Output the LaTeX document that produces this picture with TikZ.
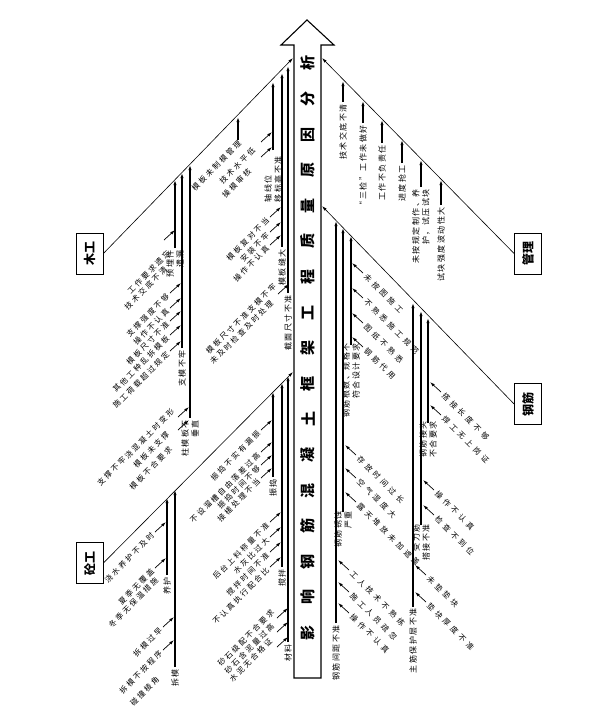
\documentclass[tikz,border=0pt]{standalone}
\usepackage{fontspec}
\setmainfont{Noto Sans CJK SC}
\newfontfamily\lspfont[LetterSpace=28]{Noto Sans CJK SC}
\newfontfamily\rspfont[LetterSpace=45]{Noto Sans CJK SC}
\newfontfamily\vspfont[LetterSpace=18]{Noto Sans CJK SC}
\usetikzlibrary{arrows.meta}
\tikzset{
  bone/.style={line width=0.6pt,-{Latex[length=5pt,width=3pt]}},
  subln/.style={line width=1.1pt,-{Latex[length=5pt,width=3.2pt]}},
  ssln/.style={line width=0.7pt,-{Latex[length=5pt,width=3pt]}},
  vlab/.style={rotate=90,font=\vspfont\fontsize{8}{10}\selectfont,inner sep=0.3pt,align=right},
  ltxt/.style={rotate=45,anchor=east,font=\lspfont\fontsize{7.6}{10}\selectfont,inner sep=0.3pt},
  rtxt/.style={rotate=-45,anchor=west,font=\rspfont\fontsize{7.6}{10}\selectfont,inner sep=0.3pt},
  catbox/.style={draw,line width=0.8pt,minimum width=27pt,minimum height=41pt,inner sep=0pt,font=\bfseries\fontsize{12}{12}\selectfont},
  spinechar/.style={rotate=90,font=\bfseries\fontsize{15}{15}\selectfont,inner sep=0pt}
}
% vertical sub-cause: [label options]{x}{y on bone}{y bottom}{label}
\newcommand\vs[5][]{\draw[subln] (#2,#4) -- (#2,#3);\node[vlab,anchor=east,#1] at (#2,#4+2) {#5};}
% left diagonal cause with default text place: {head x}{head y}{text}
\newcommand\ls[3]{\draw[ssln] (#1-11,#2+10) -- (#1,#2);\node[ltxt] at (#1-13,#2+12) {#3};}
% left diagonal cause with given text place: {head x}{head y}{text x}{text y}{text}
\newcommand\lsat[5]{\draw[ssln] (#1-11,#2+10) -- (#1,#2);\node[ltxt] at (#3,#4) {#5};}
% right diagonal cause
\newcommand\rs[3]{\draw[ssln] (#1+11,#2+10) -- (#1,#2);\node[rtxt] at (#1+13,#2+12) {#3};}
\begin{document}
\begin{tikzpicture}[x=1pt,y=-1pt]
\useasboundingbox (0,0) rectangle (597,715);
% spine
\draw[line width=1.1pt,fill=white] (294,678) -- (294,45) -- (281,45) -- (307,20) -- (334,45) -- (321,45) -- (321,678) -- cycle;
\foreach \c [count=\i from 0] in {影,响,钢,筋,混,凝,土,框,架,工,程,质,量,原,因,分,析}
  \node[spinechar] at (308,{633-35.6*\i}) {\c};
% category boxes
\node[catbox] (mg) at (89.5,253.5) {\rotatebox{90}{木工}};
\node[catbox] (tg) at (89.5,563) {\rotatebox{90}{砼工}};
\node[catbox] (gl) at (528,253.5) {\rotatebox{90}{管理}};
\node[catbox] (gj) at (528,404) {\rotatebox{90}{钢筋}};
\coordinate (mgE) at (293,58);
\coordinate (tgE) at (293,372);
\coordinate (glE) at (322,58);
\coordinate (gjE) at (322,206);
\draw[bone] (mg.east) -- (mgE);
\draw[bone] (tg.east) -- (tgE);
\draw[bone] (gl.west) -- (glE);
\draw[bone] (gj.west) -- (gjE);
% ---- 管理
\vs{343}{81}{102}{技术交底不清}
\vs{363}{101}{123}{“三检”工作未做好}
\vs{382}{120}{143}{工作不负责任}
\vs{402}{140}{163}{进度抢工}
\vs{421}{160}{187}{未按规定制作、养\\护，试压试块}
\vs{441}{180}{205}{试块强度波动性大}
% ---- 钢筋
\vs{336}{221}{623}{钢筋间距不准}
\vs[xshift=3pt]{343}{228}{512}{钢筋锈蚀\\严重}
\vs[xshift=4pt]{351}{236}{345}{钢筋根数、规格不\\符合设计要求}
\vs[xshift=1pt]{413}{303}{607}{主筋保护层不准}
\vs[xshift=3pt]{421}{311}{525}{受力筋\\搭接不准}
\vs[xshift=4pt]{428}{318}{423}{钢筋接头\\不合要求}
\rs{352}{263}{未按图施工}
\rs{352}{288}{不熟悉施工规范}
\rs{352}{313}{图纸不熟悉}
\rs{352}{337}{钢筋代用}
\rs{345}{445}{存放时间过长}
\rs{345}{468}{空气湿度大}
\rs{345}{492}{露天堆放未加遮盖}
\rs{338}{560}{工人技术不熟练}
\rs{338}{582}{施工人员疏忽}
\rs{338}{603}{操作不认真}
\rs{430}{382}{搭接长度不够}
\rs{430}{405}{焊工无上岗证}
\rs{423}{480}{操作不认真}
\rs{423}{505}{检查不到位}
\rs{415}{565}{未垫垫块}
\rs{415}{592}{垫块厚度不准}
% ---- 木工 (near spine)
\vs{288}{66}{293}{截面尺寸不准}
\vs{282}{73}{247}{模板缝大}
\vs[align=left,xshift=-4pt]{273}{82}{150}{轴线位\\移标高不准}
\draw[subln] (238,140) -- (238,117);
\node[ltxt] (mgt1) at (240,142) {模板未制模管理};
\lsat{272}{132}{254}{149}{技术水平低}
\lsat{272}{147}{250}{170}{操模审核}
\ls{281}{207}{模板复对不当}
\ls{281}{222}{安装不牢}
\ls{281}{235}{操作不认真}
\lsat{289}{284}{275}{285}{模板尺寸不准支模不牢}
\node[ltxt] (mgt2) at (272,302) {未及时检查及时处理};
% ---- 木工 (outer)
\vs{190}{165}{418}{柱模板不\\垂直}
\vs{182}{173}{348}{支模不牢}
\vs{175}{180}{248}{预埋件\\遗漏}
\lsat{175}{230}{169}{252}{工作要求遗忘}
\node[ltxt] (mgt3) at (166,268) {技术交底不清};
\ls{181}{283}{支撑强度不够}
\ls{181}{298}{操作不认真}
\ls{181}{311}{模板尺寸不准}
\ls{181}{325}{其他工种乱拆模板}
\ls{181}{341}{施工荷载超过规定}
\lsat{189}{407}{173}{410}{支撑不牢浇混凝土时变形}
\lsat{189}{420}{168}{433}{模板未支撑}
\node[ltxt] (mgt4) at (171,448) {模板不合要求};
% ---- 砼工
\vs{273}{392}{477}{振捣}
\vs{282}{383}{567}{搅拌}
\vs{288}{376}{642}{材料}
\vs{167}{498}{575}{养护}
\vs{175}{490}{667}{拆模}
\ls{272}{420}{振捣不实有漏振}
\ls{272}{442}{不设溜槽自由落差过高}
\ls{272}{455}{振捣时间不够}
\ls{272}{468}{接槎处理不当}
\ls{281}{512}{后台上料称量不准}
\ls{281}{527}{水灰比过大}
\ls{281}{542}{搅拌时间不准}
\ls{281}{557}{不认真执行配合比}
\lsat{288}{608}{273}{611}{砂石级配不合要求}
\lsat{288}{622}{273}{625}{砂石含泥量过高}
\lsat{288}{637}{271}{640}{水泥无合格证}
\ls{166}{522}{浇水养护不及时}
\ls{166}{558}{夏季无覆盖}
\node[ltxt] (tgt1) at (157,579) {冬季无保温措施};
\ls{174}{617}{拆模过早}
\ls{174}{640}{拆模不按程序}
\node[ltxt] (tgt2) at (158,678) {碰撞棱角};
\end{tikzpicture}
\end{document}
